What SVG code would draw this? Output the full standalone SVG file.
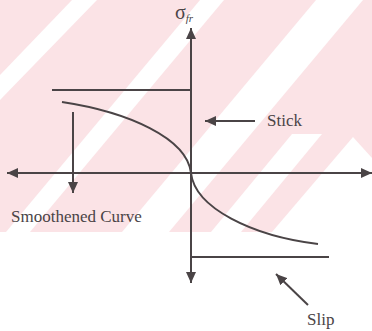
<svg xmlns="http://www.w3.org/2000/svg" width="372" height="331" viewBox="0 0 372 331">
<style>
.ln{stroke:#4a4446;stroke-width:2;fill:none}
.ar{marker-end:url(#ah)}
.tx{font-family:"Liberation Serif","Times New Roman",serif;fill:#4a4446}
.wm{fill:#fbe3e6}
.ws{fill:#ffffff}
</style>
<defs>
<marker id="ah" markerUnits="userSpaceOnUse" markerWidth="11" markerHeight="10" refX="11" refY="5" orient="auto">
<path d="M0,0 L11,5 L0,10 z" fill="#4a4446"/>
</marker>
</defs>
<rect width="372" height="331" fill="#ffffff"/>
<g id="watermark">
<rect class="wm" x="0" y="0" width="372" height="232"/>
<polygon class="ws" points="72,0 97,0 0,100 0,75"/>
<polygon class="ws" points="200,0 224,0 30,232 6,232"/>
<polygon class="ws" points="316,0 363,0 169,232 122,232"/>
<polygon class="ws" points="292,134 322,134 241,232 211,232"/>
<polygon class="ws" points="272,232 353,137 372,158 372,232"/>
</g>
<g id="connectors">
<line class="ln ar" x1="191" y1="173" x2="191" y2="28"/>
<line class="ln ar" x1="191" y1="173" x2="191" y2="283"/>
<line class="ln ar" x1="191" y1="173" x2="7" y2="173"/>
<line class="ln ar" x1="191" y1="173" x2="372" y2="173"/>
<line class="ln" x1="52" y1="90" x2="191" y2="90"/>
<line class="ln" x1="191" y1="257" x2="329" y2="257"/>
<path class="ln" d="M62,102 C128,112 187,138 191,173 C195,208 252,236 318,244"/>
<line class="ln ar" x1="73" y1="112" x2="73" y2="193"/>
<line class="ln ar" x1="255" y1="121" x2="205" y2="121"/>
<line class="ln ar" x1="308" y1="305" x2="276" y2="274"/>
</g>
<g id="label-sigma">
<text class="tx" x="175" y="19" font-size="20">σ<tspan font-size="11" font-style="italic" dy="3">fr</tspan></text>
</g>
<g id="label-stick"><text class="tx" x="267" y="126" font-size="17">Stick</text></g>
<g id="label-smoothened"><text class="tx" x="11" y="222" font-size="17">Smoothened Curve</text></g>
<g id="label-slip"><text class="tx" x="307" y="325" font-size="17">Slip</text></g>
</svg>
